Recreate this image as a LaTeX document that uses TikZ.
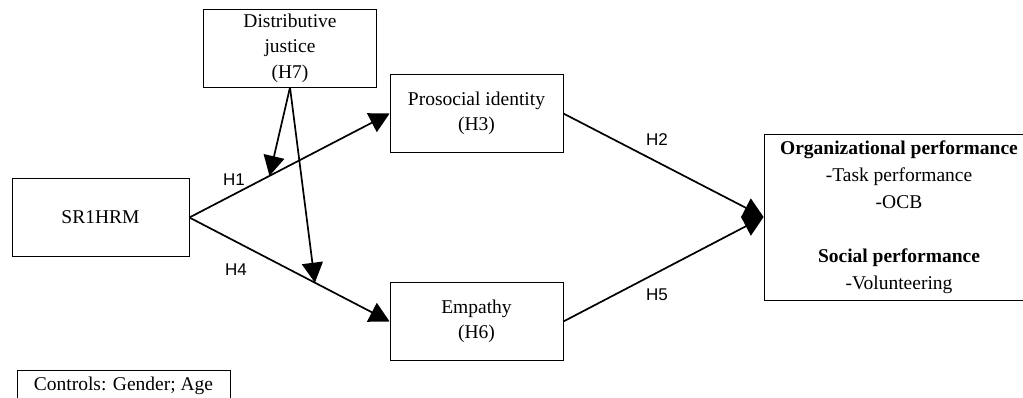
\documentclass[tikz,border=0pt]{standalone}
\usepackage{fontspec}
\setmainfont{Liberation Serif}
\newfontfamily\lsans{Liberation Sans}
\usetikzlibrary{arrows.meta,calc}
\begin{document}
\begin{tikzpicture}[x=1pt,y=-1pt,
  box/.style={draw,line width=0.8pt,inner sep=0pt,align=center,
    font=\fontsize{19.5}{25.5}\selectfont},
  conn/.style={line width=1.7pt,-{Triangle[length=20pt,width=21pt]}},
  hlab/.style={font=\lsans\fontsize{17}{20}\selectfont,inner sep=0pt}]
\useasboundingbox (0,0) rectangle (1023,398);
\clip (0,0) rectangle (1023,398);
\node[box,minimum width=173pt,minimum height=78pt] (dj) at (290,48) {Distributive\\justice\\(H7)};
\node[box,minimum width=173pt,minimum height=78pt] (pi) at (476.5,113.5) {Prosocial identity\\(H3)};
\node[box,minimum width=173pt,minimum height=78pt] (em) at (476.5,321.5) {Empathy\\(H6)};
\node[box,minimum width=177pt,minimum height=78pt] (sr) at (100.5,217.5) {SR1HRM};
\node[box,minimum width=270pt,minimum height=166pt,font=\fontsize{19.5}{27}\selectfont] (out) at (899,217)
  {\textbf{Organizational performance}\\-Task performance\\-OCB\\[27pt]\textbf{Social performance}\\-Volunteering};
\node[box,minimum width=213pt,minimum height=40pt,text height=14pt,text depth=14pt] (ctrl) at (123.5,390) {Controls: Gender; Age};
\draw[conn] (sr.east) -- (pi.west);
\draw[conn] (sr.east) -- (em.west);
\draw[conn] (pi.east) -- (out.west);
\draw[conn] (em.east) -- (out.west);
\coordinate (m1) at ($(sr.east)!0.4!(pi.west)$);
\coordinate (m2) at ($(sr.east)!0.627!(em.west)$);
\draw[conn] (dj.south) -- (m1);
\draw[conn] (dj.south) -- (m2);
\node[hlab] (h1) at (234,180) {H1};
\node[hlab] (h4) at (236,270) {H4};
\node[hlab] (h2) at (657,140) {H2};
\node[hlab] (h5) at (657,295) {H5};
\end{tikzpicture}
\end{document}
